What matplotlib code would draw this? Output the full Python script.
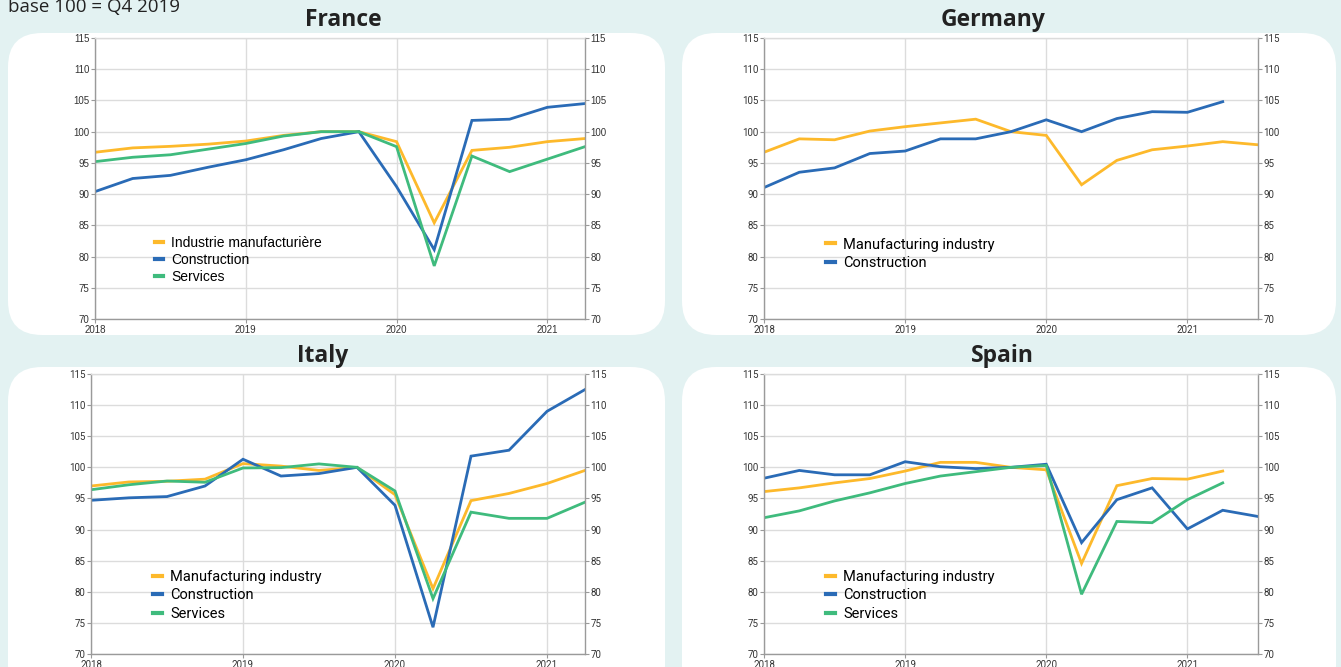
import matplotlib
matplotlib.use('Agg')
import matplotlib.pyplot as plt
from matplotlib.patches import FancyBboxPatch

# quarterly index, base 100 = Q4 2019
quarters = [2018.0, 2018.25, 2018.5, 2018.75, 2019.0, 2019.25, 2019.5, 2019.75,
            2020.0, 2020.25, 2020.5, 2020.75, 2021.0, 2021.25, 2021.5]

fr_manuf = [96.7, 97.4, 97.65, 98.0, 98.5, 99.4, 100.0, 100.0, 98.4, 85.4, 97.0, 97.5, 98.4, 98.9]
fr_constr = [90.4, 92.5, 93.0, 94.3, 95.5, 97.1, 98.9, 100.0, 91.2, 81.1, 101.8, 102.0, 103.9, 104.5]
fr_serv = [95.2, 95.9, 96.3, 97.2, 98.1, 99.3, 100.0, 100.0, 97.6, 78.5, 96.1, 93.6, 95.6, 97.6]

de_manuf = [96.7, 98.85, 98.7, 100.1, 100.8, 101.4, 102.0, 100.0, 99.4, 91.5, 95.4, 97.1, 97.7, 98.4, 97.9]
de_constr = [91.05, 93.5, 94.2, 96.5, 96.9, 98.85, 98.85, 100.0, 101.9, 100.0, 102.1, 103.2, 103.1, 104.8]

it_manuf = [97.0, 97.65, 97.76, 98.1, 100.6, 100.2, 99.5, 100.0, 95.6, 80.5, 94.65, 95.8, 97.4, 99.5]
it_constr = [94.7, 95.1, 95.3, 97.0, 101.3, 98.6, 99.0, 100.0, 93.9, 74.3, 101.8, 102.75, 109.0, 112.5]
it_serv = [96.4, 97.2, 97.8, 97.6, 99.9, 99.95, 100.55, 100.0, 96.2, 78.9, 92.8, 91.8, 91.8, 94.4]

es_manuf = [96.1, 96.7, 97.5, 98.2, 99.4, 100.8, 100.8, 100.0, 99.6, 84.55, 97.05, 98.2, 98.1, 99.4]
es_constr = [98.25, 99.5, 98.8, 98.8, 100.9, 100.1, 99.8, 100.0, 100.5, 87.9, 94.8, 96.7, 90.1, 93.1, 92.1]
es_serv = [91.9, 93.0, 94.6, 95.9, 97.4, 98.6, 99.3, 100.0, 100.3, 79.6, 91.3, 91.1, 94.8, 97.5]

yticks = [70, 75, 80, 85, 90, 95, 100, 105, 110, 115]
years = [2018, 2019, 2020, 2021]

YELLOW = '#fdb92b'
BLUE = '#2a6bb6'
GREEN = '#3fbb7d'
BG = '#e3f2f2'
GRID = '#dcdcdc'
SPINE = '#9a9a9a'

W, H = 1341, 667
fig = plt.figure(figsize=(W / 100, H / 100), dpi=100)
fig.patch.set_facecolor(BG)


def px_box(x0, y0, x1, y1):
    # pixel box (top-left origin) -> figure fraction rect
    return [x0 / W, 1 - y1 / H, (x1 - x0) / W, (y1 - y0) / H]


def panel(x0, y0, x1, y1):
    r = 34
    p = FancyBboxPatch((x0 / W, 1 - y1 / H), (x1 - x0) / W, (y1 - y0) / H,
                       boxstyle='round,pad=0,rounding_size=%f' % (r / W),
                       transform=fig.transFigure, facecolor='white',
                       edgecolor='none', zorder=-1,
                       mutation_aspect=W / H)
    fig.patches.append(p)


def chart(rect, series, xmax, font, legend_loc, lsize, lspace):
    ax = fig.add_axes(px_box(*rect))
    ax.set_facecolor('white')
    ax.set_xlim(2018, xmax)
    ax.set_ylim(70, 115)
    ax.set_yticks(yticks)
    ax.set_xticks(years)
    ax.set_xticklabels([str(y) for y in years], fontsize=7, family=font, color='#333333')
    ax.set_yticklabels([str(t) for t in yticks], fontsize=7, family=font, color='#333333')
    ax.grid(True, color=GRID, linewidth=1.0)
    ax.set_axisbelow(True)
    for s in ax.spines.values():
        s.set_color(SPINE)
        s.set_linewidth(1.0)
    ax.spines['top'].set_color(GRID)
    ax.tick_params(length=3, width=0.8, color=SPINE, pad=1)

    handles = []
    for name, vals, col in series:
        h, = ax.plot(quarters[:len(vals)], vals, color=col, linewidth=2.0,
                     solid_joinstyle='miter', label=name)
        handles.append(h)

    ax2 = ax.twinx()
    ax2.set_ylim(70, 115)
    ax2.set_yticks(yticks)
    ax2.set_yticklabels([str(t) for t in yticks], fontsize=7, family=font, color='#333333')
    ax2.tick_params(length=3, width=0.8, color=SPINE, pad=1)
    for s in ax2.spines.values():
        s.set_visible(False)

    leg = ax.legend(handles=handles, loc='upper left', bbox_to_anchor=legend_loc,
                    frameon=False, handlelength=0.6, handletextpad=0.6,
                    labelspacing=lspace, borderaxespad=0, borderpad=0,
                    prop={'family': font, 'size': lsize})
    for ln in leg.get_lines():
        ln.set_linewidth(3)
    return ax


panel(8, 33, 665, 335)
panel(682, 33, 1336, 335)
panel(8, 367, 665, 700)
panel(682, 367, 1336, 700)

narrow = ['Roboto', 'DejaVu Sans']

chart((95, 38, 585, 319),
      [('Industrie manufacturière', fr_manuf, YELLOW),
       ('Construction', fr_constr, BLUE),
       ('Services', fr_serv, GREEN)],
      2021.25, 'Liberation Sans', (0.122, 0.295), 10, 0.2)
chart((764, 38, 1258, 319),
      [('Manufacturing industry', de_manuf, YELLOW),
       ('Construction', de_constr, BLUE)],
      2021.5, narrow, (0.125, 0.29), 10.5, 0.3)
chart((91, 374, 585, 654),
      [('Manufacturing industry', it_manuf, YELLOW),
       ('Construction', it_constr, BLUE),
       ('Services', it_serv, GREEN)],
      2021.25, narrow, (0.125, 0.30), 10.5, 0.3)
chart((764, 374, 1258, 654),
      [('Manufacturing industry', es_manuf, YELLOW),
       ('Construction', es_constr, BLUE),
       ('Services', es_serv, GREEN)],
      2021.5, narrow, (0.125, 0.30), 10.5, 0.3)

for label, cx, cy in [('France', 343, 20), ('Germany', 993, 20),
                      ('Italy', 323, 356), ('Spain', 1002, 356)]:
    fig.text(cx / W, 1 - cy / H, label, ha='center', va='center', fontsize=16.5,
             fontweight='bold', family='Open Sans', color='#222222')

fig.text(8 / W, 1 - 12 / H, 'base 100 = Q4 2019', ha='left', va='baseline',
         fontsize=13.5, family='Open Sans', color='#222222')

fig.savefig('out.png', dpi=100, facecolor=BG)
